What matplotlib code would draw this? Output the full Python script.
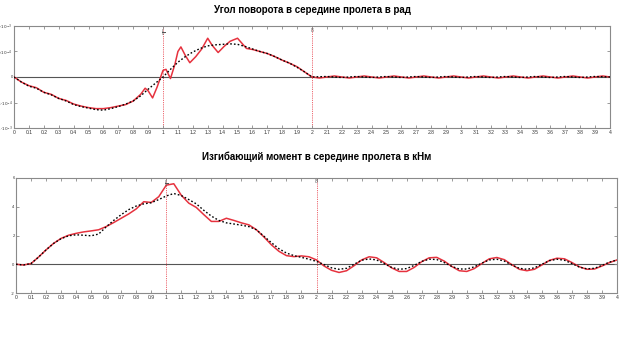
import matplotlib
matplotlib.use("Agg")
import matplotlib.pyplot as plt
import numpy as np

# --- top panel: rotation angle at mid-span (units of 1e-3 rad) ---
TOP_X_RED = [0, 0.05, 0.1, 0.15, 0.2, 0.25, 0.3, 0.35, 0.4, 0.45, 0.5, 0.55, 0.6, 0.65,
             0.7, 0.75, 0.8, 0.85, 0.88, 0.9, 0.93, 0.96, 1.0, 1.02, 1.05, 1.08, 1.1,
             1.12, 1.15, 1.18, 1.22, 1.26, 1.3, 1.33, 1.37, 1.41, 1.45, 1.5, 1.53, 1.56,
             1.6, 1.65, 1.7, 1.75, 1.8, 1.85, 1.9, 1.95, 2.0,
             2.05, 2.1, 2.15, 2.2, 2.25, 2.3, 2.35, 2.4, 2.45, 2.5, 2.55, 2.6, 2.65, 2.7,
             2.75, 2.8, 2.85, 2.9, 2.95, 3.0, 3.05, 3.1, 3.15, 3.2, 3.25, 3.3, 3.35, 3.4,
             3.45, 3.5, 3.55, 3.6, 3.65, 3.7, 3.75, 3.8, 3.85, 3.9, 3.95, 4.0]
TOP_Y_RED = [0, -0.1, -0.17, -0.21, -0.3, -0.34, -0.42, -0.46, -0.53, -0.57, -0.6, -0.62,
             -0.62, -0.6, -0.57, -0.54, -0.47, -0.34, -0.22, -0.27, -0.41, -0.2, 0.13,
             0.15, -0.03, 0.25, 0.5, 0.59, 0.42, 0.28, 0.4, 0.55, 0.76, 0.62, 0.48, 0.6,
             0.7, 0.76, 0.66, 0.56, 0.54, 0.5, 0.46, 0.4, 0.33, 0.27, 0.2, 0.1, 0.0,
             -0.02, 0.0, 0.02, 0.0, -0.02, 0.0, 0.02, 0.0, -0.02, 0.0, 0.02, 0.0, -0.02,
             0.0, 0.02, 0.0, -0.02, 0.0, 0.02, 0.0, -0.02, 0.0, 0.02, 0.0, -0.02, 0.0,
             0.02, 0.0, -0.02, 0.0, 0.02, 0.0, -0.02, 0.0, 0.02, 0.0, -0.02, 0.0, 0.02, 0.0]
TOP_X_BLK = [0, 0.05, 0.1, 0.15, 0.2, 0.25, 0.3, 0.35, 0.4, 0.45, 0.5, 0.55, 0.6, 0.65,
             0.7, 0.75, 0.8, 0.85, 0.9, 0.95, 1.0, 1.05, 1.1, 1.15, 1.2, 1.25, 1.3, 1.35,
             1.4, 1.45, 1.5, 1.55, 1.6, 1.65, 1.7, 1.75, 1.8, 1.85, 1.9, 1.95, 2.0,
             2.1, 2.2, 2.3, 2.4, 2.5, 2.6, 2.7, 2.8, 2.9, 3.0, 3.1, 3.2, 3.3, 3.4, 3.5,
             3.6, 3.7, 3.8, 3.9, 4.0]
TOP_Y_BLK = [0, -0.1, -0.18, -0.22, -0.3, -0.35, -0.42, -0.47, -0.54, -0.58, -0.61,
             -0.64, -0.65, -0.62, -0.58, -0.53, -0.47, -0.37, -0.24, -0.12, 0.0, 0.15,
             0.29, 0.4, 0.49, 0.56, 0.61, 0.63, 0.64, 0.65, 0.64, 0.6, 0.55, 0.5, 0.46,
             0.4, 0.33, 0.27, 0.19, 0.1, 0.0,
             0.01, -0.01, 0.01, -0.01, 0.01, -0.01, 0.01, -0.01, 0.01, -0.01, 0.01,
             -0.01, 0.01, -0.01, 0.01, -0.01, 0.01, -0.01, 0.01, 0.0]

# --- bottom panel: bending moment at mid-span, kNm ---
BOT_X = [0, 0.05, 0.1, 0.15, 0.2, 0.25, 0.3, 0.35, 0.4, 0.45, 0.5, 0.55, 0.6, 0.65, 0.7,
         0.75, 0.8, 0.85, 0.9, 0.95, 1.0, 1.05, 1.1, 1.15, 1.2, 1.25, 1.3, 1.35, 1.4,
         1.45, 1.5, 1.55, 1.6, 1.65, 1.7, 1.75, 1.8, 1.85, 1.9, 1.95, 2.0,
         2.05, 2.1, 2.15, 2.2, 2.25, 2.3, 2.35, 2.4, 2.45, 2.5, 2.55, 2.6, 2.65, 2.7,
         2.75, 2.8, 2.85, 2.9, 2.95, 3.0, 3.05, 3.1, 3.15, 3.2, 3.25, 3.3, 3.35, 3.4,
         3.45, 3.5, 3.55, 3.6, 3.65, 3.7, 3.75, 3.8, 3.85, 3.9, 3.95, 4.0]
BOT_Y_RED = [0, -0.05, 0.05, 0.5, 1.0, 1.45, 1.8, 2.02, 2.15, 2.25, 2.32, 2.4, 2.62, 2.9,
             3.2, 3.5, 3.85, 4.35, 4.3, 4.7, 5.5, 5.6, 4.8, 4.25, 3.95, 3.45, 2.98, 2.98,
             3.2, 3.05, 2.88, 2.74, 2.4, 1.9, 1.35, 0.9, 0.6, 0.53, 0.58, 0.52, 0.3,
             -0.12, -0.42, -0.57, -0.45, -0.1, 0.3, 0.52, 0.45, 0.12, -0.25, -0.5, -0.5,
             -0.22, 0.18, 0.45, 0.48, 0.22, -0.15, -0.45, -0.5, -0.3, 0.05, 0.38, 0.47,
             0.32, -0.03, -0.35, -0.45, -0.35, -0.05, 0.27, 0.42, 0.38, 0.12, -0.18,
             -0.35, -0.33, -0.12, 0.12, 0.3]
BOT_Y_BLK = [0, -0.05, 0.05, 0.5, 1.0, 1.45, 1.78, 1.98, 2.05, 2.02, 1.98, 2.1, 2.6, 3.05,
             3.45, 3.8, 4.05, 4.2, 4.28, 4.5, 4.75, 4.92, 4.78, 4.5, 4.2, 3.75, 3.35,
             3.05, 2.88, 2.8, 2.72, 2.62, 2.4, 1.95, 1.5, 1.08, 0.78, 0.6, 0.48, 0.35, 0.2,
             -0.02, -0.25, -0.35, -0.28, 0.0, 0.28, 0.37, 0.3, 0.05, -0.22, -0.35, -0.3,
             -0.08, 0.2, 0.35, 0.33, 0.12, -0.15, -0.33, -0.33, -0.18, 0.08, 0.3, 0.35,
             0.22, -0.05, -0.28, -0.35, -0.25, 0.0, 0.25, 0.35, 0.28, 0.05, -0.2, -0.32,
             -0.28, -0.08, 0.15, 0.3]

X_TICKS = [i / 10 for i in range(41)]
TOP_YTICKS = [-1e-3, -5e-4, 0, 5e-4, 1e-3]
TOP_YLABELS = [r"$-1{\cdot}10^{-3}$", r"$-5{\cdot}10^{-4}$", "0",
               r"$5{\cdot}10^{-4}$", r"$1{\cdot}10^{-3}$"]
BOT_YTICKS = [-2, 0, 2, 4, 6]

RED = "#e6323e"
GRAY = "#8a8a8a"


def style(ax):
    for s in ax.spines.values():
        s.set_color(GRAY)
        s.set_linewidth(0.8)
    ax.tick_params(direction="in", top=True, right=True, length=2.5, width=0.6,
                   color=GRAY, labelsize=3.6, pad=1.5, labelcolor="#333333")
    ax.tick_params(axis="y", labelsize=3.0, pad=1.0)
    ax.set_xlim(0, 4)
    ax.set_xticks(X_TICKS)
    ax.set_xticklabels([f"{v:g}" for v in X_TICKS])
    ax.axhline(0, color="#555555", lw=0.8, zorder=1)
    for xv in (1, 2):
        ax.axvline(xv, color=RED, lw=0.6, ls=(0, (1, 1.2)), zorder=1)


def main():
    plt.rcParams.update({"font.family": ["Liberation Sans", "DejaVu Sans"]})
    fig = plt.figure(figsize=(6.43, 3.55), dpi=100)

    ax1 = fig.add_axes([0.0218, 0.6394, 0.9269, 0.2874])
    style(ax1)
    ax1.set_ylim(-1e-3, 1e-3)
    ax1.set_yticks(TOP_YTICKS)
    ax1.set_yticklabels(TOP_YLABELS)
    ax1.plot(TOP_X_BLK, np.array(TOP_Y_BLK) * 1e-3, color="black", lw=1.0,
             ls=(0, (1.2, 1.5)), zorder=4)
    ax1.plot(TOP_X_RED, np.array(TOP_Y_RED) * 1e-3, color=RED, lw=1.1, zorder=3)
    ax1.text(1, 0.97e-3, r"$\frac{L}{v}$", fontsize=4, ha="center", va="top", color="#555555")
    ax1.text(2, 0.97e-3, "8", fontsize=3.5, ha="center", va="top", color="#555555")
    ax1.set_title("Угол поворота в середине пролета в рад", fontsize=7,
                  fontweight="bold", pad=9)

    ax2 = fig.add_axes([0.0249, 0.1746, 0.9347, 0.3240])
    style(ax2)
    ax2.set_ylim(-2, 6)
    ax2.set_yticks(BOT_YTICKS)
    ax2.set_yticklabels([f"{v:g}" for v in BOT_YTICKS])
    ax2.plot(BOT_X, BOT_Y_BLK, color="black", lw=1.0, ls=(0, (1.2, 1.5)), zorder=4)
    ax2.plot(BOT_X, BOT_Y_RED, color=RED, lw=1.1, zorder=3)
    ax2.text(1, 5.9, r"$\frac{L}{v}$", fontsize=4, ha="center", va="top", color="#555555")
    ax2.text(2, 5.9, "8", fontsize=3.5, ha="center", va="top", color="#555555")
    ax2.set_title("Изгибающий момент в середине пролета в кНм", fontsize=7,
                  fontweight="bold", pad=13)

    fig.savefig("out.png", dpi=100)
    plt.close(fig)


if __name__ == "__main__":
    main()
